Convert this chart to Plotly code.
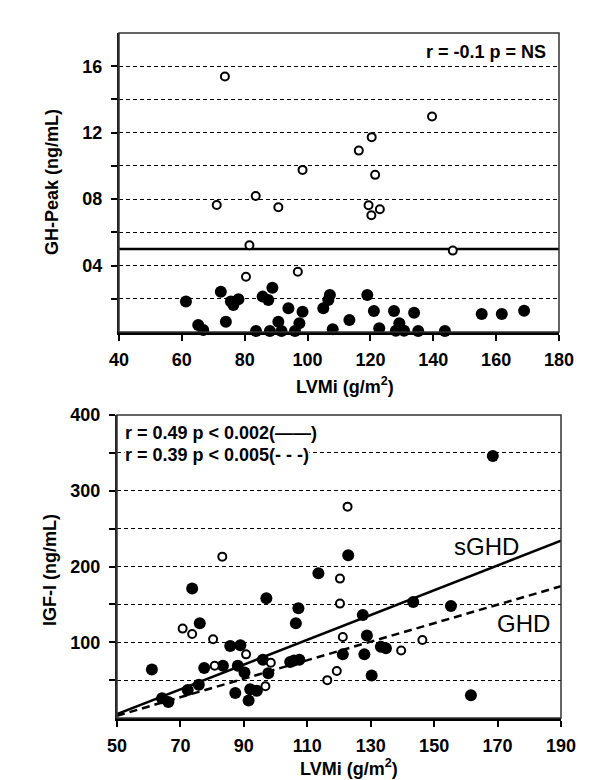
import plotly.graph_objects as go

# ---------- data: top panel (GH-Peak vs LVMi) ----------
gh_filled_x = [61.3, 72.4, 75.6, 76.4, 78.0, 65.2, 66.8, 74.0, 83.6, 85.7, 87.5, 88.8, 93.9,
               88.0, 90.7, 91.7, 96.0, 97.4, 98.4, 105.0, 106.6, 107.1, 108.0, 113.3, 119.0,
               121.1, 122.8, 127.5, 129.2, 128.1, 130.7, 133.9, 135.2, 143.7, 155.4, 161.8, 168.9]
gh_filled_y = [1.83, 2.43, 1.83, 1.63, 1.97, 0.42, 0.12, 0.62, 0.06, 2.13, 1.93, 2.67, 1.43,
               0.06, 0.62, 0.06, 0.06, 0.52, 1.22, 1.43, 1.93, 2.23, 0.16, 0.72, 2.23,
               1.27, 0.22, 1.27, 0.52, 0.08, 0.08, 1.16, 0.06, 0.06, 1.08, 1.08, 1.28]
gh_open_x = [73.7, 71.1, 83.5, 90.7, 81.5, 80.4, 96.9, 98.4, 139.6, 120.4, 116.3, 121.5,
             119.4, 120.3, 123.0, 146.2]
gh_open_y = [15.38, 7.65, 8.19, 7.51, 5.22, 3.33, 3.63, 9.76, 12.97, 11.73, 10.92, 9.46,
             7.63, 7.03, 7.39, 4.9]
gh_cutoff = 5
gh_major_ticks = [4, 8, 12, 16]
gh_major_labels = ["04", "08", "12", "16"]
gh_minor_ticks = [2, 6, 10, 14]
top_xticks = [40, 60, 80, 100, 120, 140, 160, 180]

# ---------- data: bottom panel (IGF-I vs LVMi) ----------
igf_filled_x = [61.0, 73.7, 76.1, 64.2, 66.2, 72.3, 75.8, 77.5, 83.4, 85.7, 88.9, 88.1, 90.2,
                87.3, 91.5, 92.0, 94.1, 96.0, 97.7, 97.1, 106.4, 107.2, 104.6, 105.8, 107.5,
                113.5, 122.9, 127.5, 128.8, 121.2, 128.0, 130.3, 133.2, 134.8, 143.4, 155.3,
                161.6, 168.5]
igf_filled_y = [64, 171, 125, 26, 21, 37, 44, 66, 69, 95, 96, 69, 60,
                33, 23, 38, 36, 77, 59, 158, 125, 145, 74, 76, 77,
                191, 215, 136, 109, 84, 84, 56, 94, 92, 153, 148,
                30, 346]
igf_open_x = [70.7, 73.7, 80.3, 80.8, 90.7, 83.2, 96.8, 98.5, 120.3, 120.3, 121.2, 119.3,
              116.3, 139.6, 146.3, 122.7]
igf_open_y = [118, 111, 104, 69, 84, 213, 42, 73, 184, 151, 107, 62,
              50, 89, 103, 279]
fit_x = [50, 190]
sghd_fit_y = [5, 234]
ghd_fit_y = [3, 174]
igf_major_ticks = [100, 200, 300, 400]
igf_minor_ticks = [50, 150, 250, 350]
bot_xticks = [50, 70, 90, 110, 130, 150, 170, 190]

FONT = "Liberation Sans, Arial, sans-serif"
OFF = 8  # page body margin offset compensation

fig = go.Figure()

filled_marker = dict(color="black", size=12, line=dict(width=0))
open_marker = dict(color="white", size=8, line=dict(color="black", width=2))

fig.add_trace(go.Scatter(x=gh_filled_x, y=gh_filled_y, mode="markers", marker=filled_marker,
                         xaxis="x", yaxis="y", showlegend=False, cliponaxis=False))
fig.add_trace(go.Scatter(x=gh_open_x, y=gh_open_y, mode="markers", marker=open_marker,
                         xaxis="x", yaxis="y", showlegend=False))

fig.add_trace(go.Scatter(x=fit_x, y=sghd_fit_y, mode="lines", line=dict(color="black", width=2.5),
                         xaxis="x2", yaxis="y2", showlegend=False))
fig.add_trace(go.Scatter(x=fit_x, y=ghd_fit_y, mode="lines",
                         line=dict(color="black", width=2.5, dash="8px,5px"),
                         xaxis="x2", yaxis="y2", showlegend=False))
fig.add_trace(go.Scatter(x=igf_filled_x, y=igf_filled_y, mode="markers", marker=filled_marker,
                         xaxis="x2", yaxis="y2", showlegend=False))
fig.add_trace(go.Scatter(x=igf_open_x, y=igf_open_y, mode="markers", marker=open_marker,
                         xaxis="x2", yaxis="y2", showlegend=False))

# threshold line
fig.add_shape(type="line", xref="x domain", yref="y", x0=0, x1=1, y0=gh_cutoff, y1=gh_cutoff,
              line=dict(color="black", width=2.5), layer="below")

tickfont = dict(family=FONT, size=18, color="black", weight="bold")
grid = dict(showgrid=True, gridcolor="black", gridwidth=1.3, griddash="4px,3px")

common_x = dict(showline=True, linecolor="black", linewidth=2.5, ticks="outside", ticklen=6,
                tickwidth=1.5, tickcolor="black", showgrid=False, zeroline=False, tickfont=tickfont,
                automargin=False, ticklabelstandoff=4)
common_y = dict(showline=True, linecolor="#222", linewidth=2, ticks="outside", ticklen=6,
                tickwidth=1.5, tickcolor="black", zeroline=False, tickfont=tickfont,
                automargin=False, ticklabelstandoff=5, **grid)

minor_y = dict(ticks="outside", ticklen=6, tickwidth=1.5, tickcolor="black", **grid)


def hx(a, b):
    return [(a - OFF) / 600, (b - OFF) / 600]


def vy(top, bottom):
    return [(780 - (bottom - OFF)) / 780, (780 - (top - OFF)) / 780]


fig.update_layout(
    width=600, height=780,
    margin=dict(l=0, r=0, t=0, b=0),
    paper_bgcolor="white", plot_bgcolor="white",
    xaxis=dict(domain=hx(119, 559), range=[40, 180], tickvals=top_xticks, anchor="y",
               **common_x),
    yaxis=dict(domain=vy(33, 332), range=[0, 18], tickvals=gh_major_ticks,
               ticktext=gh_major_labels, anchor="x",
               minor=dict(tickvals=gh_minor_ticks, **minor_y), **common_y),
    xaxis2=dict(domain=hx(117, 561), range=[50, 190], tickvals=bot_xticks, anchor="y2",
                **common_x),
    yaxis2=dict(domain=vy(415, 718), range=[0, 400], tickvals=igf_major_ticks, anchor="x2",
                minor=dict(tickvals=igf_minor_ticks, **minor_y), **common_y),
)

# thin box borders (top/right)
for xr, yr in [("x domain", "y domain"), ("x2 domain", "y2 domain")]:
    fig.add_shape(type="rect", xref=xr, yref=yr, x0=0, x1=1, y0=0, y1=1,
                  line=dict(color="#333", width=1.5), layer="above")


# axis titles
def ptext(text, px, py, angle=0, size=18):
    fig.add_annotation(text=text, xref="paper", yref="paper", x=(px - OFF) / 600,
                       y=1 - (py - OFF) / 780,
                       xanchor="center", yanchor="middle", showarrow=False, textangle=angle,
                       font=dict(family=FONT, size=size, color="black", weight="bold"))


ptext("GH-Peak (ng/mL)", 52, 182, -90)
ptext("LVMi (g/m<sup>2</sup>)", 345, 385)
ptext("IGF-I (ng/mL)", 50, 570, -90)
ptext("LVMi (g/m<sup>2</sup>)", 349, 767)

textfont = dict(family=FONT, size=18, color="black", weight="bold")
fig.add_annotation(text="r = -0.1 p = NS", xref="x domain", yref="y domain", x=0.975, y=0.937,
                   xanchor="right", yanchor="middle", showarrow=False, font=textfont)
fig.add_annotation(text="r = 0.49 p < 0.002(\u2014\u2014)", xref="x2 domain", yref="y2 domain",
                   x=0.015, y=0.94, xanchor="left", yanchor="middle", showarrow=False, font=textfont,
                   bgcolor="white", borderpad=0)
fig.add_annotation(text="r = 0.39 p < 0.005(- - -)", xref="x2 domain", yref="y2 domain",
                   x=0.015, y=0.868, xanchor="left", yanchor="middle", showarrow=False, font=textfont,
                   bgcolor="white", borderpad=0)
fig.add_annotation(text="sGHD", xref="x2", yref="y2", x=166.5, y=226, showarrow=False,
                   font=dict(family=FONT, size=24, color="black"))
fig.add_annotation(text="GHD", xref="x2", yref="y2", x=178.3, y=125, showarrow=False,
                   font=dict(family=FONT, size=24, color="black"))

fig.write_html("out.html")
